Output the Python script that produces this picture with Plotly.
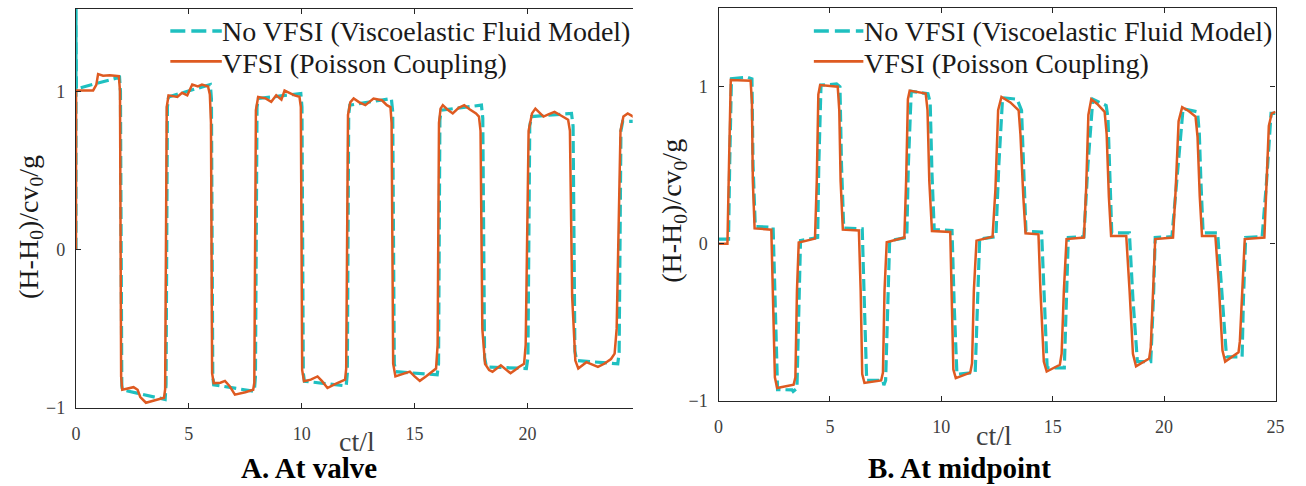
import plotly.graph_objects as go

W, H = 1306, 486

# ---------------- data ----------------
# Panel A: at valve
valve_t_novfsi = [0, 0, 0.02, 1.93, 1.97, 2.03, 2.06, 3.95, 3.99, 4.05, 4.1, 5.95, 6.0, 6.06, 6.1, 7.9, 7.95,
                  8.02, 8.08, 9.96, 10.01, 10.07, 10.12, 11.97, 12.02, 12.08, 12.13, 13.97, 14.03, 14.1, 14.17,
                  16.0, 16.06, 16.12, 16.18, 17.96, 18.02, 18.1, 18.18, 19.95, 20.02, 20.1, 20.18, 21.95, 22.02,
                  22.1, 22.18, 24.0, 24.06, 24.14, 24.22, 24.8]
valve_h_novfsi = [0, 1.62, 1.015, 1.088, 1.0, -0.86, -0.885, -0.945, -0.85, 0.9, 0.964, 1.042, 0.95, -0.8, -0.853,
                  -0.894, -0.8, 0.9, 0.954, 0.985, 0.9, -0.78, -0.83, -0.86, -0.78, 0.85, 0.912, 0.954, 0.87,
                  -0.72, -0.77, -0.79, -0.72, 0.82, 0.88, 0.912, 0.83, -0.68, -0.74, -0.75, -0.68, 0.78, 0.84,
                  0.86, 0.78, -0.64, -0.70, -0.72, -0.65, 0.75, 0.81, 0.81]

valve_t_vfsi = [0, 0.005, 0.76, 0.9, 0.98, 1.2, 1.5, 1.9, 1.95, 2.0, 2.05, 2.44, 2.55, 2.73, 2.85, 3.1, 3.5, 3.9,
                3.95, 4.02, 4.1, 4.49, 4.7, 4.93, 5.15, 5.4, 5.58, 5.85, 5.93, 5.98, 6.03, 6.1, 6.4, 6.6, 6.8,
                7.04, 7.5, 7.85, 7.9, 7.97, 8.07, 8.4, 8.65, 8.87, 9.1, 9.24, 9.45, 9.68, 9.9, 9.96, 10.02, 10.1,
                10.4, 10.7, 10.9, 11.14, 11.45, 11.72, 11.92, 11.97, 12.05, 12.15, 12.3, 12.55, 12.82, 13.18,
                13.55, 13.77, 13.93, 13.98, 14.05, 14.15, 14.4, 14.79, 15.0, 15.23, 15.5, 15.75, 15.95, 16.02,
                16.08, 16.15, 16.25, 16.45, 16.69, 16.95, 17.2, 17.45, 17.72, 17.85, 17.92, 18.0, 18.12, 18.3,
                18.45, 18.82, 19.05, 19.25, 19.45, 19.62, 19.85, 19.92, 20.05, 20.2, 20.35, 20.5, 20.71, 20.95,
                21.2, 21.5, 21.8, 21.88, 21.98, 22.12, 22.25, 22.61, 22.85, 23.12, 23.4, 23.7, 23.86, 23.95,
                24.12, 24.25, 24.44, 24.66, 24.8]
valve_h_vfsi = [0, 1.005, 1.005, 1.04, 1.108, 1.098, 1.1, 1.095, 1.0, -0.8, -0.884, -0.873, -0.868, -0.884, -0.93,
                -0.966, -0.95, -0.935, -0.88, 0.9, 0.974, 0.964, 0.99, 0.974, 1.042, 1.03, 1.042, 1.03, 0.98, 0.8,
                -0.78, -0.842, -0.84, -0.828, -0.86, -0.915, -0.9, -0.884, -0.84, 0.88, 0.964, 0.955, 0.933,
                0.974, 0.947, 1.005, 0.99, 0.974, 0.965, 0.9, -0.76, -0.83, -0.82, -0.80, -0.83, -0.873, -0.85,
                -0.83, -0.82, -0.75, 0.85, 0.93, 0.954, 0.93, 0.912, 0.954, 0.943, 0.912, 0.9, 0.8, -0.72, -0.80,
                -0.79, -0.77, -0.80, -0.828, -0.80, -0.77, -0.75, -0.6, 0.8, 0.89, 0.912, 0.885, 0.86, 0.895,
                0.912, 0.885, 0.86, 0.84, 0.75, -0.5, -0.72, -0.76, -0.77, -0.73, -0.76, -0.78, -0.76, -0.74,
                -0.72, -0.6, 0.75, 0.86, 0.89, 0.87, 0.84, 0.855, 0.87, 0.845, 0.82, 0.75, -0.3, -0.7, -0.75,
                -0.71, -0.725, -0.74, -0.72, -0.69, -0.656, -0.5, 0.75, 0.84, 0.86, 0.84, 0.83]

# Panel B: at midpoint
mid_t_novfsi = [0, 0.45, 0.5, 0.58, 1.3, 1.5, 1.55, 1.65, 2.45, 2.55, 2.65, 3.3, 3.35, 3.52, 3.6, 3.68, 4.45,
                4.5, 4.6, 5.3, 5.45, 5.52, 5.62, 6.45, 6.55, 6.65, 7.38, 7.42, 7.5, 7.58, 7.68, 8.45, 8.52, 8.65,
                9.4, 9.5, 9.58, 9.68, 10.48, 10.58, 10.7, 11.45, 11.52, 11.62, 11.72, 12.45, 12.58, 12.75, 13.4,
                13.6, 13.7, 13.8, 14.5, 14.62, 14.75, 15.52, 15.6, 15.7, 16.4, 16.58, 16.8, 17.4, 17.48, 17.55,
                17.65, 18.44, 18.6, 18.8, 19.4, 19.52, 19.6, 20.35, 20.6, 20.85, 21.5, 21.58, 21.65, 21.75,
                22.4, 22.62, 22.8, 23.5, 23.56, 23.66, 24.4, 24.6, 24.8, 25]
mid_h_novfsi = [0.03, 0.03, 0.5, 1.05, 1.06, 1.05, 0.5, 0.11, 0.105, -0.4, -0.928, -0.93, -0.94, -0.92, -0.4,
                0.02, 0.04, 0.5, 1.01, 1.017, 1.0, 0.5, 0.1, 0.095, -0.4, -0.87, -0.87, -0.9, -0.87, -0.4, 0.02,
                0.04, 0.5, 0.97, 0.955, 0.9, 0.45, 0.09, 0.085, -0.4, -0.83, -0.82, -0.82, -0.4, 0.03, 0.045,
                0.5, 0.93, 0.92, 0.85, 0.45, 0.08, 0.075, -0.4, -0.79, -0.79, -0.4, 0.04, 0.045, 0.5, 0.92, 0.88,
                0.8, 0.45, 0.07, 0.07, -0.35, -0.75, -0.75, -0.35, 0.04, 0.045, 0.45, 0.86, 0.84, 0.7, 0.4, 0.07,
                0.07, -0.35, -0.72, -0.72, -0.35, 0.04, 0.045, 0.4, 0.83, 0.83]

mid_t_vfsi = [0, 0.4, 0.47, 0.55, 1.44, 1.5, 1.54, 1.62, 2.37, 2.45, 2.53, 2.63, 3.37, 3.45, 3.52, 3.6, 4.33,
              4.41, 4.48, 4.56, 5.35, 5.42, 5.48, 5.58, 6.3, 6.38, 6.45, 6.55, 7.3, 7.38, 7.45, 7.55, 8.34, 8.42,
              8.5, 8.58, 9.3, 9.38, 9.46, 9.58, 10.4, 10.46, 10.54, 10.65, 11.3, 11.38, 11.46, 11.58, 12.3, 12.43,
              12.55, 12.7, 13.1, 13.47, 13.55, 13.68, 13.78, 14.36, 14.45, 14.6, 14.73, 15.32, 15.4, 15.5,
              15.62, 16.4, 16.5, 16.6, 16.73, 17.0, 17.33, 17.42, 17.52, 17.62, 18.3, 18.45, 18.6, 18.74, 19.33,
              19.4, 19.5, 19.6, 20.4, 20.52, 20.65, 20.81, 21.1, 21.41, 21.5, 21.6, 21.7, 22.3, 22.45, 22.62,
              22.74, 23.34, 23.4, 23.52, 23.62, 24.5, 24.58, 24.7, 24.83, 25]
mid_h_vfsi = [0.0, 0.0, 0.5, 1.042, 1.038, 0.9, 0.4, 0.098, 0.09, -0.3, -0.85, -0.918, -0.897, -0.85, -0.3, 0.008,
              0.033, 0.4, 0.95, 1.01, 1.0, 0.85, 0.4, 0.09, 0.085, -0.3, -0.83, -0.886, -0.87, -0.82, -0.3, 0.01,
              0.04, 0.4, 0.92, 0.975, 0.956, 0.85, 0.4, 0.081, 0.075, -0.3, -0.8, -0.855, -0.82, -0.76, -0.3,
              0.02, 0.045, 0.35, 0.85, 0.934, 0.9, 0.85, 0.7, 0.3, 0.067, 0.06, -0.3, -0.75, -0.813, -0.77,
              -0.7, -0.3, 0.03, 0.04, 0.35, 0.82, 0.92, 0.89, 0.84, 0.7, 0.3, 0.05, 0.05, -0.3, -0.7, -0.78,
              -0.73, -0.66, -0.3, 0.03, 0.04, 0.35, 0.78, 0.87, 0.845, 0.81, 0.68, 0.3, 0.05, 0.05, -0.25,
              -0.68, -0.75, -0.69, -0.62, -0.25, 0.03, 0.04, 0.35, 0.75, 0.83, 0.84]

x_ticks_a = [0, 5, 10, 15, 20]
x_ticks_b = [0, 5, 10, 15, 20, 25]
y_ticks = [-1, 0, 1]

name_novfsi = "No VFSI (Viscoelastic Fluid Model)"
name_vfsi = "VFSI (Poisson Coupling)"
y_title = "(H-H<sub>0</sub>)/cv<sub>0</sub>/g"
x_title = "ct/l"
captions = ["A. At valve", "B. At midpoint"]

# ---------------- styling ----------------
CYAN = "#1FC0C0"
ORANGE = "#DE5A21"
AXC = "#262626"
TXC = "#404040"
FONT = "Liberation Serif"


def px(x):
    return x / W


def py(y):
    return 1 - y / H


fig = go.Figure()
fig.add_trace(go.Scatter(x=valve_t_novfsi, y=valve_h_novfsi, mode="lines", name=name_novfsi,
                         line=dict(color=CYAN, width=3.2, dash="12px,5px"), xaxis="x", yaxis="y",
                         showlegend=False))
fig.add_trace(go.Scatter(x=valve_t_vfsi, y=valve_h_vfsi, mode="lines", name=name_vfsi,
                         line=dict(color=ORANGE, width=2.5), xaxis="x", yaxis="y", showlegend=False))
fig.add_trace(go.Scatter(x=mid_t_novfsi, y=mid_h_novfsi, mode="lines", name=name_novfsi,
                         line=dict(color=CYAN, width=3.2, dash="12px,5px"), xaxis="x2", yaxis="y2",
                         showlegend=False))
fig.add_trace(go.Scatter(x=mid_t_vfsi, y=mid_h_vfsi, mode="lines", name=name_vfsi,
                         line=dict(color=ORANGE, width=2.5), xaxis="x2", yaxis="y2", showlegend=False))

axis_common = dict(showgrid=False, zeroline=False, showline=True, linecolor=AXC, linewidth=1.3,
                   ticks="inside", ticklen=5, tickcolor=AXC, tickwidth=1,
                   tickfont=dict(family=FONT, size=18, color=TXC))

fig.update_layout(
    width=W, height=H, margin=dict(l=0, r=0, t=0, b=0),
    paper_bgcolor="white", plot_bgcolor="white", showlegend=False,
    xaxis=dict(domain=[px(72.7), px(635)], range=[0, 24.66], tickvals=x_ticks_a, mirror="ticks",
               anchor="y", ticklabelstandoff=9, **axis_common),
    yaxis=dict(domain=[py(416.7), py(9)], range=[-1, 1.52], tickvals=y_ticks, mirror=False,
               anchor="x", ticklabelstandoff=6, **axis_common),
    xaxis2=dict(domain=[px(721.7), px(1284.3)], range=[0, 25], tickvals=x_ticks_b, mirror="ticks",
                anchor="y2", ticklabelstandoff=9, **axis_common),
    yaxis2=dict(domain=[py(409.3), py(8.3)], range=[-1, 1.5], tickvals=y_ticks, mirror="ticks",
                anchor="x2", ticklabelstandoff=6, **axis_common),
)

ann = []
# y titles
for cx, cy in [(26, 232), (676, 215)]:
    ann.append(dict(text=y_title, x=px(cx), y=py(cy), xref="paper", yref="paper", textangle=-90,
                    showarrow=False, xanchor="center", yanchor="middle",
                    font=dict(family=FONT, size=28, color="#1a1a1a")))
# x titles
for cx, cy in [(357, 451), (1000, 445)]:
    ann.append(dict(text=x_title, x=px(cx), y=py(cy), xref="paper", yref="paper", showarrow=False,
                    xanchor="center", yanchor="middle", font=dict(family=FONT, size=28, color=TXC)))
# captions
for cap, cx in zip(captions, [308, 965]):
    ann.append(dict(text="<b>" + cap + "</b>", x=px(cx), y=py(478), xref="paper", yref="paper",
                    showarrow=False, xanchor="center", yanchor="middle",
                    font=dict(family=FONT, size=29, color="black")))

# legends (one per panel)
shapes = []
for lx0, lx1, tx in [(168, 220, 218), (818, 868, 867)]:
    shapes.append(dict(type="line", xref="paper", yref="paper", x0=px(lx0), x1=px(lx1),
                       y0=py(31.7), y1=py(31.7), line=dict(color=CYAN, width=3.5, dash="15px,6px")))
    shapes.append(dict(type="line", xref="paper", yref="paper", x0=px(lx0), x1=px(lx1),
                       y0=py(62.7), y1=py(62.7), line=dict(color=ORANGE, width=2.6)))
    for name, cy in [(name_novfsi, 32), (name_vfsi, 65)]:
        ann.append(dict(text=name, x=px(tx), y=py(cy), xref="paper", yref="paper", showarrow=False,
                        xanchor="left", yanchor="middle", font=dict(family=FONT, size=28, color="#1a1a1a")))

fig.update_layout(annotations=ann, shapes=shapes)
fig.write_html("out.html")
